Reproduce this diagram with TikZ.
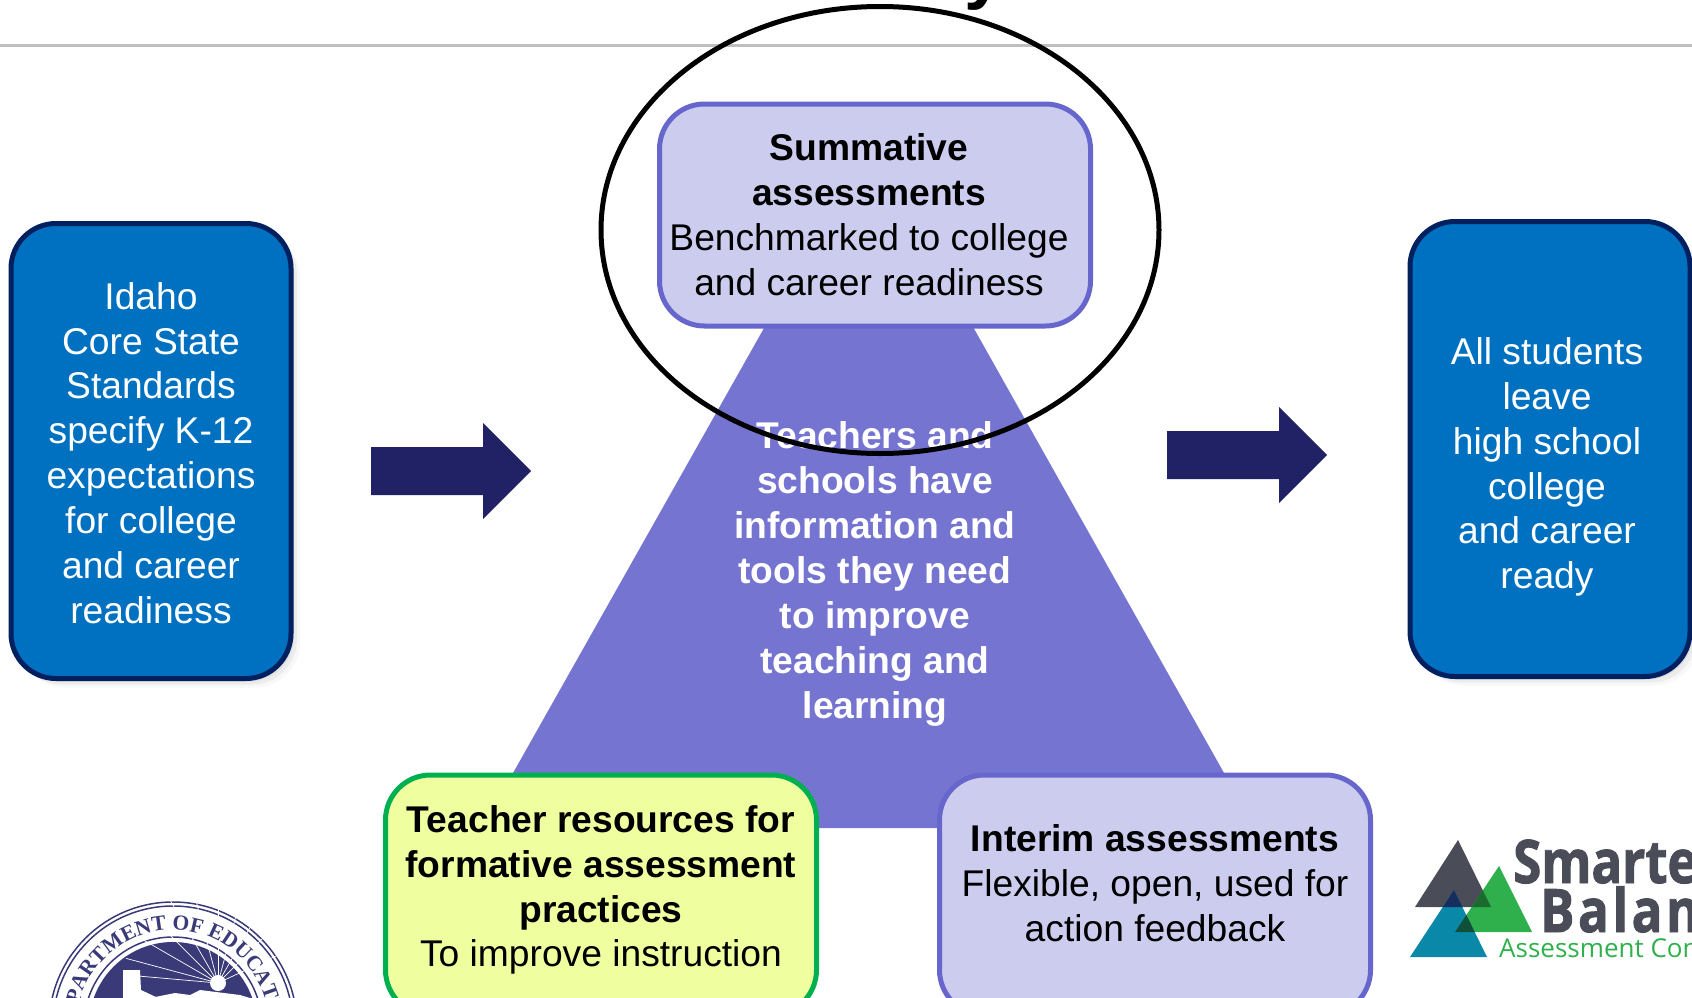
\documentclass[tikz,border=0pt]{standalone}
\usepackage{fontspec}
\setmainfont{Liberation Sans}
\newfontfamily\sealfont{Liberation Serif}
\newfontfamily\logofont[FakeStretch=0.85,FakeBold=1.5]{Open Sans}
\newfontfamily\subfont{Open Sans}
\usetikzlibrary{shapes.geometric,shadows,decorations.text}
\definecolor{bluefill}{HTML}{0070C0}
\definecolor{blueline}{HTML}{002060}
\definecolor{lilacfill}{HTML}{CCCCEE}
\definecolor{lilacline}{HTML}{6666CC}
\definecolor{triangfill}{HTML}{7575D1}
\definecolor{yellowfill}{HTML}{EFFF9F}
\definecolor{greenline}{HTML}{00B050}
\definecolor{arrowfill}{HTML}{212165}
\definecolor{sealblue}{HTML}{3A3A78}
\definecolor{logodark}{HTML}{4A4C57}
\definecolor{logogreen}{HTML}{2FB04C}
\definecolor{logoteal}{HTML}{0A88A8}
\tikzset{
  basebox/.style={draw, rectangle, rounded corners=45pt, line width=5pt, inner sep=0pt},
  boxtext/.style={align=center, inner sep=0pt, font=\fontsize{37.2}{44.9}\selectfont},
  bluebox/.style={basebox, fill=bluefill, draw=blueline, minimum width=280pt, minimum height=455pt,
    drop shadow={shadow xshift=3pt, shadow yshift=-3pt, opacity=.12},
    drop shadow={shadow xshift=6pt, shadow yshift=-6pt, opacity=.10},
    drop shadow={shadow xshift=9pt, shadow yshift=-9pt, opacity=.06}},
  lilacbox/.style={basebox, fill=lilacfill, draw=lilacline, minimum width=431pt},
  yellowbox/.style={basebox, fill=yellowfill, draw=greenline, minimum width=431pt},
}
\begin{document}
\begin{tikzpicture}[x=1pt,y=-1pt]
    \useasboundingbox (0,0) rectangle (1692,998);
    % title and rule
    \node[anchor=base, font=\fontsize{72}{72}\selectfont\bfseries](title) at (985,-4){y};
    \draw[line width=3pt, color=black!25](0,46)--(1692,46);
    % triangle
    \fill[triangfill](869,142)--(1255,828)--(482,828)--cycle;
    \node[boxtext, text=white, font=\fontsize{37.2}{44.9}\selectfont\bfseries](centre) at (875,574){Teachers and\\schools have\\information and\\tools they need\\to improve\\teaching and\\learning};
    % boxes
    \node[bluebox](standards) at (151,451){};
    \node[boxtext, text=white](standardstext) at (151,453){Idaho\\Core State\\Standards\\specify K-12\\expectations\\for college\\and career\\readiness};
    \node[bluebox](ready) at (1550,449){};
    \node[boxtext, text=white](readytext) at (1547,467){All students\\leave\\high school\\college\\and career\\ready};
    \node[lilacbox, minimum height=222pt](summative) at (875,215){};
    \node[boxtext](summativetext) at (869,215){\textbf{Summative}\\\textbf{assessments}\\Benchmarked to college\\and career readiness};
    \node[yellowbox, minimum height=240pt](formative) at (601,895){};
    \node[boxtext](formativetext) at (601,890){\textbf{Teacher resources for}\\\textbf{formative assessment}\\\textbf{practices}\\To improve instruction};
    \node[lilacbox, minimum height=240pt](interim) at (1155,895){};
    \node[boxtext](interimtext) at (1155,883){\textbf{Interim assessments}\\Flexible, open, used for\\action feedback};
    % arrows
    \foreach \ax/\ay in {371/471,1167/455}
    \fill[arrowfill]({\ax},{\ay-24})--({\ax+112},{\ay-24})--({\ax+112},{\ay-48})--({\ax+160},{\ay})--({\ax+112},{\ay+48})--({\ax+112},{\ay+24})--({\ax},{\ay+24})--cycle;
    % ring round the summative box
    \node[draw, ellipse, line width=5pt, inner sep=0pt, minimum width=558pt, minimum height=447pt](ring) at (880,230){};
    % seal
    \coordinate (sealcentre) at (173,1026);
    \coordinate (sun) at (218,983);
    \draw[sealblue, line width=1.5pt](sealcentre) circle[radius=124pt];
    \draw[sealblue, line width=1.5pt](sealcentre) circle[radius=120pt];
    \draw[sealblue, line width=1.5pt](sealcentre) circle[radius=89pt];
    \fill[sealblue](sealcentre) circle[radius=84pt];
    \foreach \rayangle in {25,45,60,75,90,105,120,135,150,165,175}
    \draw[white, line width=.7pt](sun)--++(\rayangle:95pt);
    \fill[white](123,970)--(140,970)--(141,990)--(158,998)--(123,998)--cycle;
    \fill[white](150,998)--(175,993)--(190,995)--(200,990)--(240,995)--(250,998)--cycle;
    \fill[white](sun) circle[radius=8pt];
    \path (sealcentre) ++(215:96pt) coordinate (sealstart);
    \path[decorate, decoration={text along path, text align=center,
      text={|\sealfont\fontsize{21.5}{21.5}\selectfont\bfseries\color{sealblue}|DEPARTMENT OF EDUCATION}}]
      (sealstart) arc[start angle=215, end angle=-39, radius=96pt];
    % logo
    \fill[logodark](1458,840)--(1491,907)--(1415,907)--cycle;
    \fill[logogreen](1499,866)--(1532,932)--(1455,932)--cycle;
    \fill[logoteal](1454,890)--(1487,957)--(1410,957)--cycle;
    \begin{scope}
      \clip(1458,840)--(1491,907)--(1415,907)--cycle;
      \fill[logogreen!60!black](1499,866)--(1532,932)--(1455,932)--cycle;
      \fill[blueline!70!logodark](1454,890)--(1487,957)--(1410,957)--cycle;
    \end{scope}
    \begin{scope}
      \clip(1499,866)--(1532,932)--(1455,932)--cycle;
      \fill[logoteal!40!logogreen!50!black](1454,890)--(1487,957)--(1410,957)--cycle;
    \end{scope}
    \node[anchor=base west, inner sep=0pt, text=logodark, font=\logofont\fontsize{60}{60}\selectfont\bfseries](smarter) at (1513,883){Smarter};
    \node[anchor=base west, inner sep=0pt, text=logodark, font=\logofont\fontsize{60}{60}\selectfont\bfseries\addfontfeature{LetterSpace=6}](balanced) at (1540,932){Balanced};
    \node[anchor=base west, inner sep=0pt, text=logogreen, font=\subfont\fontsize{26}{26}\selectfont](consortium) at (1499,957){Assessment Consortium};
\end{tikzpicture}
\end{document}
